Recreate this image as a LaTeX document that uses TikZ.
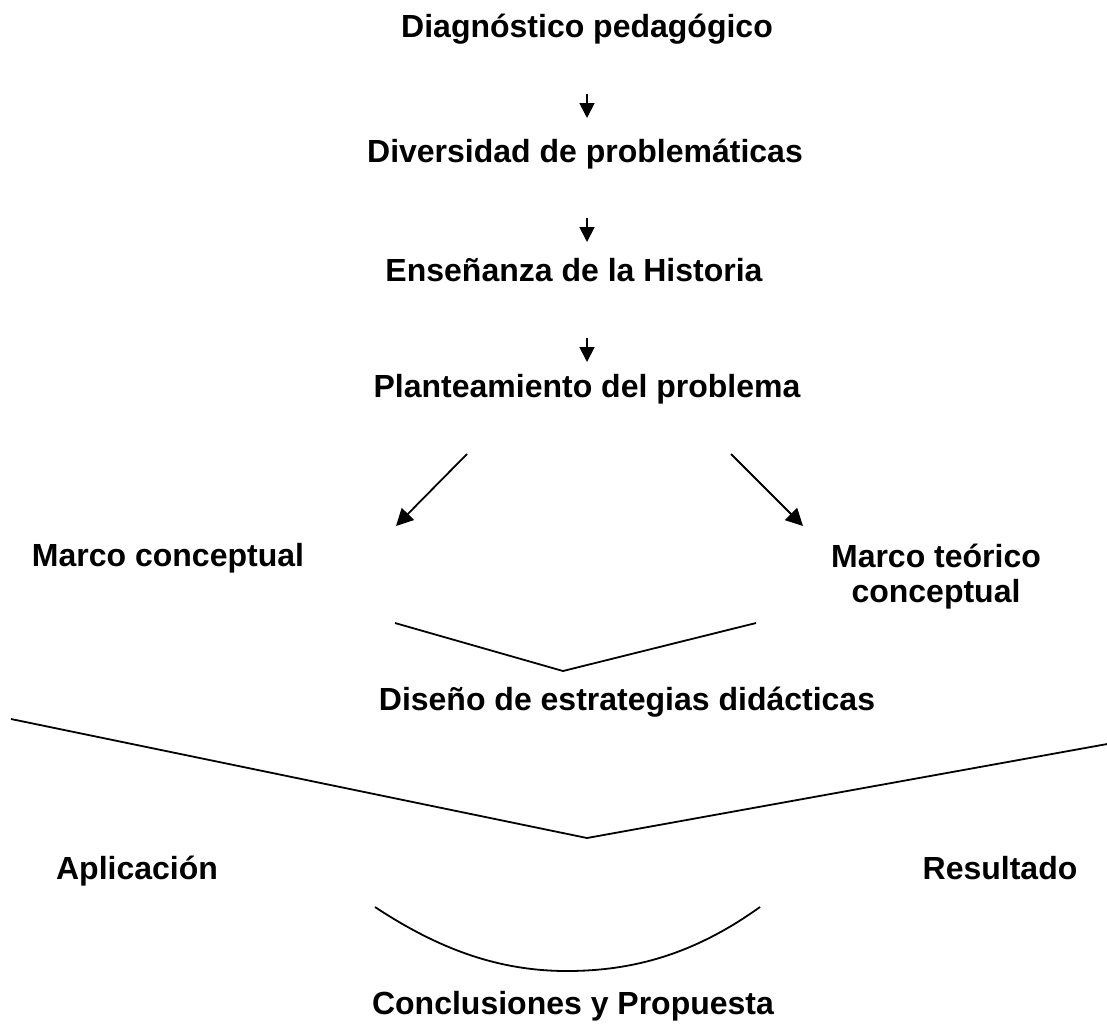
\documentclass[tikz,border=0pt]{standalone}
\usepackage{fontspec}
\setmainfont{Liberation Sans}
\usetikzlibrary{arrows.meta}
\begin{document}
\begin{tikzpicture}[x=1pt,y=-1pt,
  lbl/.style={anchor=base,font=\bfseries\fontsize{32}{36}\selectfont,inner sep=0pt,align=center},
  ln/.style={line width=1.8pt},
  sarr/.style={ln,-{Triangle[length=15pt,width=15pt]}},
  darr/.style={ln,-{Triangle[length=17pt,width=17pt]}}]
\useasboundingbox (0,0) rectangle (1107,1028);
\node[lbl] (t1) at (587,37) {Diagnóstico pedagógico};
\node[lbl] (t2) at (585,162) {Diversidad de problemáticas};
\node[lbl] (t3) at (574,281) {Enseñanza de la Historia};
\node[lbl] (t4) at (587,397) {Planteamiento del problema};
\node[lbl] (t5) at (168,566) {Marco conceptual};
\node[lbl] (t6) at (936,602) {Marco teórico\\[-1pt]conceptual};
\node[lbl] (t7) at (627,710) {Diseño de estrategias didácticas};
\node[lbl] (t8) at (137,879) {Aplicación};
\node[lbl] (t9) at (1000,879) {Resultado};
\node[lbl] (t10) at (573,1014) {Conclusiones y Propuesta};
% arrow endpoints
\coordinate (a1s) at (587,94);  \coordinate (a1e) at (587,118);
\coordinate (a2s) at (587,218); \coordinate (a2e) at (587,242);
\coordinate (a3s) at (587,338); \coordinate (a3e) at (587,362);
\coordinate (dls) at (467,454); \coordinate (dle) at (396,526);
\coordinate (drs) at (731,454); \coordinate (dre) at (803,526);
\draw[sarr] (a1s) -- (a1e);
\draw[sarr] (a2s) -- (a2e);
\draw[sarr] (a3s) -- (a3e);
\draw[darr] (dls) -- (dle);
\draw[darr] (drs) -- (dre);
% small V
\coordinate (v1l) at (395,623); \coordinate (v1m) at (563,671); \coordinate (v1r) at (756,623);
\draw[ln] (v1l) -- (v1m) -- (v1r);
% big V
\coordinate (v2l) at (11,719); \coordinate (v2m) at (587,838); \coordinate (v2r) at (1110,743.5);
\draw[ln] (v2l) -- (v2m) -- (v2r);
% arc
\coordinate (c1l) at (375,907); \coordinate (c1r) at (760,907);
\draw[ln] (c1l) .. controls (440,950) and (500,971) .. (567,971) .. controls (640,971) and (700,950) .. (c1r);
\end{tikzpicture}
\end{document}
